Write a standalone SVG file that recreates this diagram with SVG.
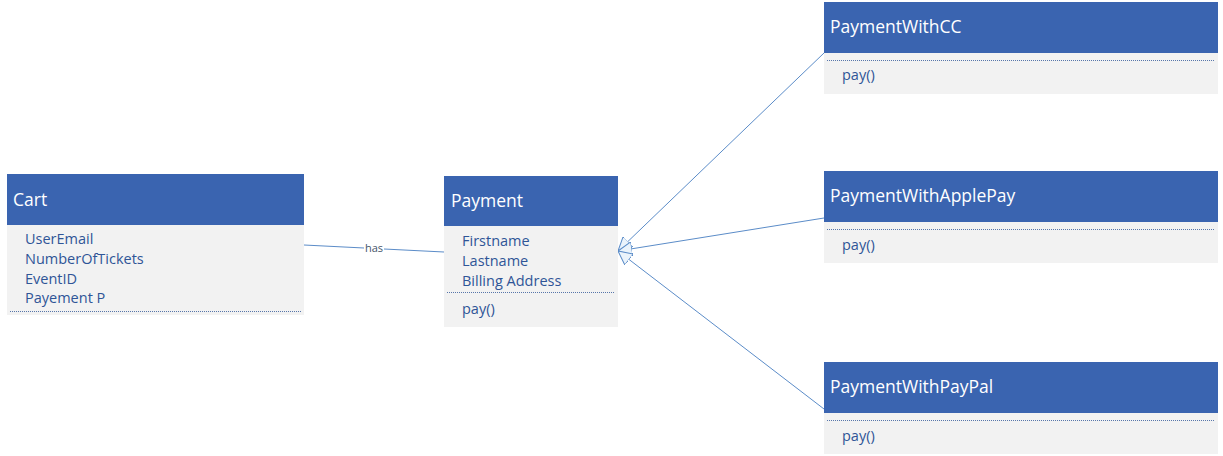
<svg xmlns="http://www.w3.org/2000/svg" width="1223" height="456" viewBox="0 0 1223 456">
<style>
.hdr{fill:#3A64B0}
.body{fill:#F2F2F2}
.title{font-family:"Open Sans","Liberation Sans",sans-serif;font-size:17.5px;fill:#FFFFFF}
.fld{font-family:"Open Sans","Liberation Sans",sans-serif;font-size:14.5px;fill:#2F5597}
.sep{stroke:#2F5597;stroke-width:0.8;stroke-dasharray:1 1;fill:none}
.conn{stroke:#5B8CC8;stroke-width:1;fill:none}
.lbl{font-family:"Open Sans","Liberation Sans",sans-serif;font-size:11px;fill:#44546A}
</style>
<defs>
<marker id="gen" viewBox="0 0 14 14" refX="14" refY="7" markerWidth="14" markerHeight="14" markerUnits="userSpaceOnUse" orient="auto-start-reverse">
<path d="M0,0 L14,7 L0,14 z" fill="#EAF3FB" stroke="#5B8CC8" stroke-width="1"/>
</marker>
</defs>
<rect width="1223" height="456" fill="#FFFFFF"/>
<g id="connectors">
<line class="conn" x1="304" y1="245" x2="444" y2="252"/>
<rect x="364" y="242" width="20" height="12" fill="#FFFFFF"/>
<text class="lbl" x="374" y="252" text-anchor="middle">has</text>
<line class="conn" x1="618" y1="251" x2="824" y2="53" marker-start="url(#gen)"/>
<line class="conn" x1="618" y1="251" x2="824" y2="218" marker-start="url(#gen)"/>
<line class="conn" x1="618" y1="251" x2="824" y2="409" marker-start="url(#gen)"/>
</g>
<g id="cart">
<rect class="hdr" x="7" y="174" width="297" height="51"/>
<rect class="body" x="7" y="225" width="297" height="90"/>
<text class="title" x="13" y="206">Cart</text>
<text class="fld" x="25" y="244">UserEmail</text>
<text class="fld" x="25" y="264">NumberOfTickets</text>
<text class="fld" x="25" y="284">EventID</text>
<text class="fld" x="25" y="303">Payement P</text>
<line class="sep" x1="10" y1="311.5" x2="301" y2="311.5"/>
</g>
<g id="payment">
<rect class="hdr" x="444" y="176" width="174" height="50"/>
<rect class="body" x="444" y="226" width="174" height="101"/>
<text class="title" x="451" y="207">Payment</text>
<text class="fld" x="462" y="246">Firstname</text>
<text class="fld" x="462" y="266">Lastname</text>
<text class="fld" x="462" y="286">Billing Address</text>
<line class="sep" x1="447" y1="292.5" x2="615" y2="292.5"/>
<text class="fld" x="462" y="314">pay()</text>
</g>
<g id="paymentWithCC">
<rect class="hdr" x="824" y="2" width="394" height="51"/>
<rect class="body" x="824" y="53" width="394" height="41"/>
<text class="title" x="830" y="33">PaymentWithCC</text>
<line class="sep" x1="827" y1="60.5" x2="1215" y2="60.5"/>
<text class="fld" x="842" y="80">pay()</text>
</g>
<g id="paymentWithApplePay">
<rect class="hdr" x="824" y="171" width="394" height="51"/>
<rect class="body" x="824" y="222" width="394" height="41"/>
<text class="title" x="830" y="202">PaymentWithApplePay</text>
<line class="sep" x1="827" y1="229.5" x2="1215" y2="229.5"/>
<text class="fld" x="842" y="250">pay()</text>
</g>
<g id="paymentWithPayPal">
<rect class="hdr" x="824" y="362" width="394" height="51"/>
<rect class="body" x="824" y="413" width="394" height="41"/>
<text class="title" x="830" y="393">PaymentWithPayPal</text>
<line class="sep" x1="827" y1="420.5" x2="1215" y2="420.5"/>
<text class="fld" x="842" y="441">pay()</text>
</g>
</svg>
